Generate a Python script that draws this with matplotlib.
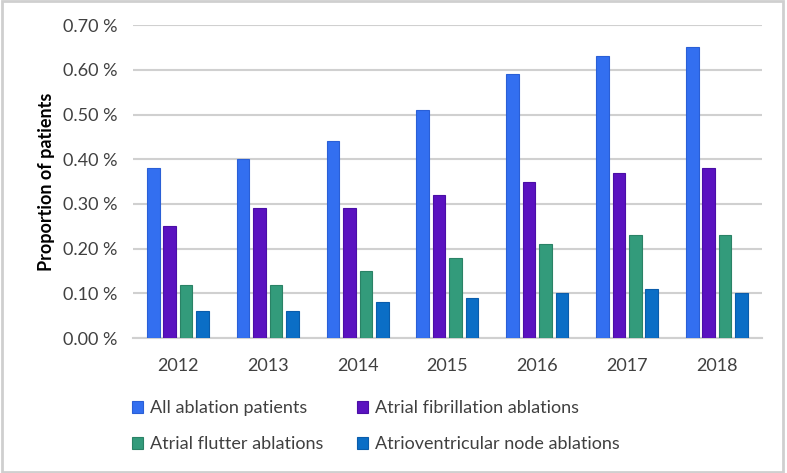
import numpy as np
import matplotlib.pyplot as plt
from matplotlib.patches import Rectangle
from matplotlib.ticker import FuncFormatter

years = ["2012", "2013", "2014", "2015", "2016", "2017", "2018"]
all_ablation = [0.38, 0.40, 0.44, 0.51, 0.59, 0.63, 0.65]
af_ablation = [0.25, 0.29, 0.29, 0.32, 0.35, 0.37, 0.38]
flutter_ablation = [0.12, 0.12, 0.15, 0.18, 0.21, 0.23, 0.23]
avn_ablation = [0.06, 0.06, 0.08, 0.09, 0.10, 0.11, 0.10]

series = [
    ("All ablation patients", all_ablation, "#336ff0", "#2a5fd6"),
    ("Atrial fibrillation ablations", af_ablation, "#5a12c0", "#4a0ea6"),
    ("Atrial flutter ablations", flutter_ablation, "#339b7b", "#2a8266"),
    ("Atrioventricular node ablations", avn_ablation, "#0b6ec6", "#0a5cab"),
]

plt.rcParams['font.family'] = ['Lato', 'DejaVu Sans']

fig = plt.figure(figsize=(7.87, 4.73), dpi=100)
ax = fig.add_axes([0.169, 0.285, 0.799, 0.662])

x = np.arange(len(years))
step = 0.183
width = 0.14
handles = {}
for i, (name, vals, color, edge) in enumerate(series):
    offs = (i - 1.5) * step
    b = ax.bar(x + offs, vals, width, color=color, edgecolor=edge,
               linewidth=0.8, label=name, zorder=3)
    handles[name] = b

ax.set_xlim(-0.5, len(years) - 0.5)
ax.set_ylim(0, 0.70)
ax.set_yticks(np.arange(0, 0.71, 0.10))
ax.yaxis.set_major_formatter(FuncFormatter(lambda v, p: f"{v:.2f} %"))
ax.set_xticks(x)
ax.set_xticklabels(years)
ax.grid(axis='y', color='#d0d0d0', linewidth=1.5, zorder=0)
for s in ['top', 'right', 'left']:
    ax.spines[s].set_visible(False)
ax.spines['bottom'].set_color('#d0d0d0')
ax.spines['bottom'].set_linewidth(1.5)
ax.tick_params(axis='both', length=0, labelsize=13, labelcolor='#404040')
ax.tick_params(axis='y', pad=11)
ax.tick_params(axis='x', pad=14)
ax.set_ylabel("Proportion of patients", fontsize=13, fontweight='bold',
              color='black', labelpad=6)

order = ["All ablation patients", "Atrial flutter ablations",
         "Atrial fibrillation ablations", "Atrioventricular node ablations"]
fig.legend([handles[n] for n in order], order, ncol=2,
           loc='upper left', bbox_to_anchor=(0.147, 0.188),
           frameon=False, fontsize=13, handlelength=0.6, handleheight=0.6,
           handletextpad=0.4, columnspacing=1.85, labelspacing=1.1,
           labelcolor='#404040')

fig.patches.append(Rectangle((0.002, 0.003), 0.993, 0.994, transform=fig.transFigure,
                             fill=False, edgecolor='#cfcfcf', linewidth=2))

fig.savefig("out.png", dpi=100)
